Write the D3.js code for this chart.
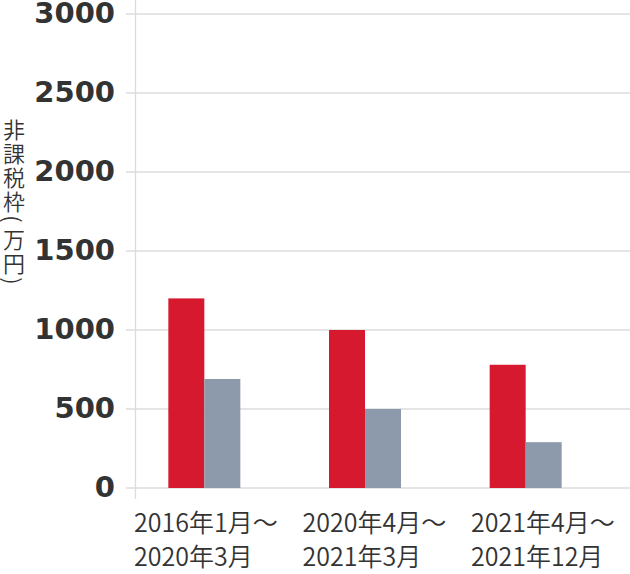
<!DOCTYPE html>
<html><head><meta charset="utf-8">
<script src="https://cdn.jsdelivr.net/npm/d3@7"></script>
<style>
html,body{margin:0;padding:0;background:#fff;}
#wrap{position:relative;width:630px;height:574px;}
svg{display:block;position:absolute;left:0;top:0;}
#ytitle{position:absolute;left:3px;top:116px;width:22px;}
#ytitle div{width:22px;text-align:center;font-family:"Noto Sans CJK JP";font-weight:350;font-size:22px;color:#333;overflow:visible;white-space:nowrap;}
</style></head>
<body>
<div id="wrap">
<svg id="chart" width="630" height="574"></svg>
<div id="ytitle"></div>
</div>
<script>
const categories = ["2016年1月～\n2020年3月", "2020年4月～\n2021年3月", "2021年4月～\n2021年12月"];
const seriesNames = ["A", "B"];
const seriesA = [1200, 1000, 780];
const seriesB = [690, 500, 290];
const yTicks = [0, 500, 1000, 1500, 2000, 2500, 3000];
const yTitle = "非課税枠(万円)";
const colors = ["#D6192F", "#8D9AAC"];

const svg = d3.select("#chart");
const y = d3.scaleLinear().domain([0, 3000]).range([488, 14]);
const x0 = d3.scaleBand().domain(categories).range([124, 606]).padding(0);
const x1 = d3.scaleBand().domain(seriesNames).range([-36, 36]).padding(0);
const xl = d3.scalePoint().domain(categories).range([134, 471]);

// gridlines
svg.append("g").selectAll("line").data(yTicks).join("line")
  .attr("x1", 126).attr("x2", 630)
  .attr("y1", d => y(d)).attr("y2", d => y(d))
  .attr("stroke", "#dcdcdc").attr("stroke-width", 1.3);

// vertical axis line
svg.append("line").attr("x1", 135.5).attr("x2", 135.5).attr("y1", 0).attr("y2", 499)
  .attr("stroke", "#dcdcdc").attr("stroke-width", 1.3);

// tick labels
svg.append("g").selectAll("text").data(yTicks).join("text")
  .attr("x", 115).attr("y", d => y(d) + 9)
  .attr("text-anchor", "end")
  .attr("font-family", "DejaVu Sans")
  .attr("font-weight", "bold")
  .attr("font-size", 29)
  .attr("fill", "#333")
  .text(d => d);

// bars
const data = categories.map((c, i) => ({cat: c, vals: [seriesA[i], seriesB[i]]}));
const g = svg.append("g").selectAll("g").data(data).join("g")
  .attr("transform", d => `translate(${x0(d.cat) + x0.bandwidth()/2},0)`);
g.selectAll("rect").data(d => d.vals.map((v, j) => ({s: seriesNames[j], v, j}))).join("rect")
  .attr("x", d => x1(d.s)).attr("width", x1.bandwidth())
  .attr("y", d => y(d.v)).attr("height", d => y(0) - y(d.v))
  .attr("fill", d => colors[d.j]);

// x labels
const xt = svg.append("g").selectAll("text").data(categories).join("text")
  .attr("x", d => xl(d)).attr("y", 531.5)
  .attr("font-family", "Noto Sans CJK JP")
  .attr("font-weight", 350)
  .attr("font-size", 25)
  .attr("fill", "#333");
xt.selectAll("tspan").data(d => d.split("\n")).join("tspan")
  .attr("x", function(){ return d3.select(this.parentNode).attr("x"); })
  .attr("dy", (d, i) => i === 0 ? 0 : 34)
  .text(d => d);

// y title: stacked glyphs, parentheses turned like vertical text
const isParen = c => c === "(" || c === ")";
d3.select("#ytitle").selectAll("div").data(Array.from(yTitle)).join("div")
  .style("height", d => (isParen(d) ? 14 : 24) + "px")
  .style("line-height", d => (isParen(d) ? 14 : 24) + "px")
  .style("transform", d => isParen(d) ? "rotate(90deg)" : null)
  .text(d => d);
</script>
</body></html>
